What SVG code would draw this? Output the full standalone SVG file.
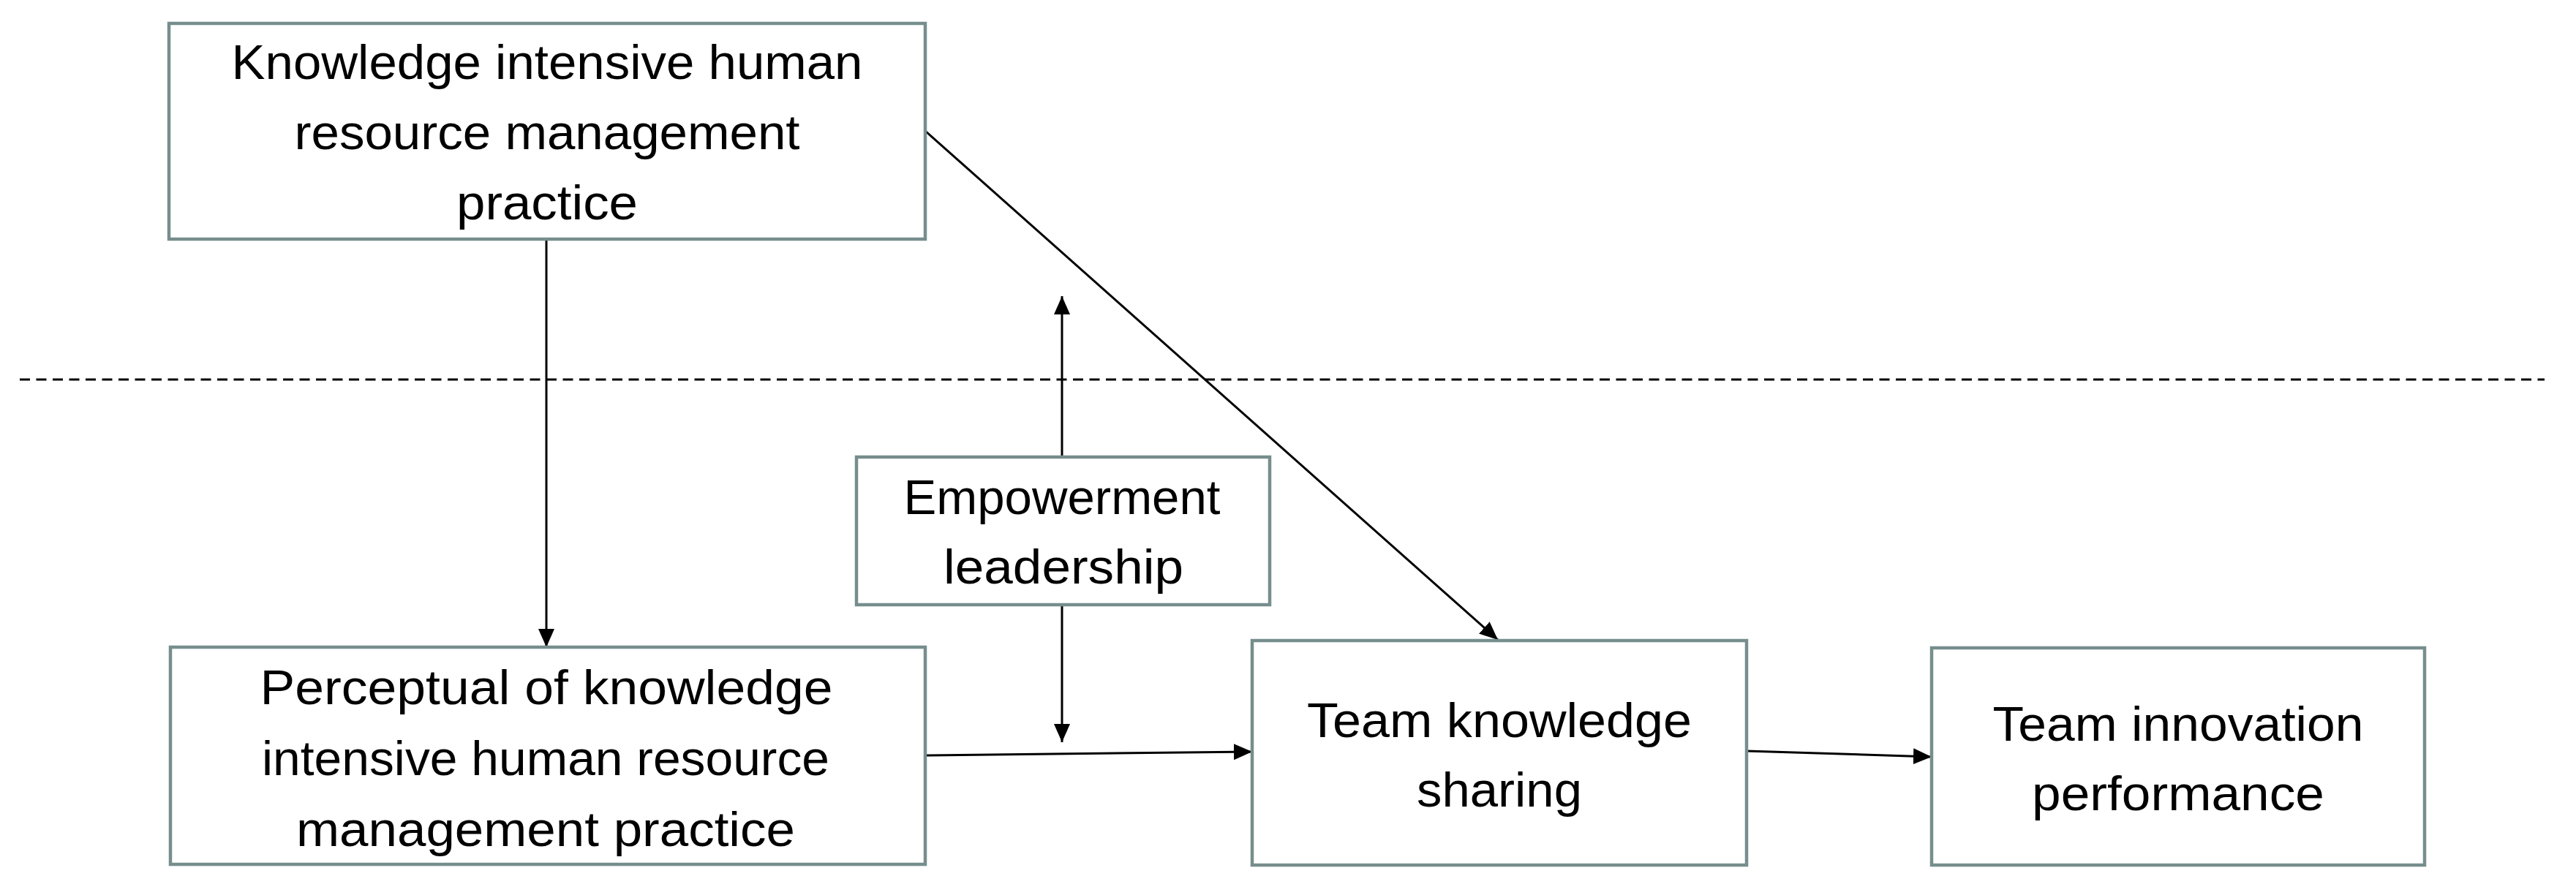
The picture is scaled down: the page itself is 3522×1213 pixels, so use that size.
<svg xmlns="http://www.w3.org/2000/svg" width="3522" height="1213" viewBox="0 0 3522 1213">
<style>
.box{fill:#ffffff;stroke:#768e8d;stroke-width:4.5}
.lbl{font-family:"Liberation Sans","DejaVu Sans",sans-serif;font-size:66px;fill:#000;text-anchor:middle}
.con{stroke:#000;stroke-width:3;fill:none}
.arr{marker-end:url(#ah)}
.dash{stroke:#000;stroke-width:3;stroke-dasharray:14 8.5;fill:none}
</style>
<defs>
<marker id="ah" markerUnits="userSpaceOnUse" markerWidth="26" markerHeight="24" refX="25" refY="11" orient="auto">
<path d="M0,0 L25,11 L0,22 z" fill="#000"/>
</marker>
</defs>
<rect width="3522" height="1213" fill="#ffffff"/>
<g id="connectors">
<line class="dash" x1="27" y1="519" x2="3479" y2="519"/>
<line class="con arr" x1="747" y1="327" x2="747" y2="885"/>
<line class="con arr" x1="1265" y1="179" x2="2048" y2="875"/>
<line class="con arr" x1="1452" y1="625" x2="1452" y2="405"/>
<line class="con arr" x1="1452" y1="827" x2="1452" y2="1015"/>
<line class="con arr" x1="1265" y1="1033" x2="1712" y2="1028"/>
<line class="con arr" x1="2388" y1="1027" x2="2641" y2="1035"/>
</g>
<g id="node-kihrm">
<rect class="box" x="231" y="32" width="1034" height="295"/>
<text class="lbl" x="748" y="108" textLength="863" lengthAdjust="spacingAndGlyphs">Knowledge intensive human</text>
<text class="lbl" x="748" y="204" textLength="691" lengthAdjust="spacingAndGlyphs">resource management</text>
<text class="lbl" x="748" y="300" textLength="248" lengthAdjust="spacingAndGlyphs">practice</text>
</g>
<g id="node-empowerment">
<rect class="box" x="1171" y="625" width="565" height="202"/>
<text class="lbl" x="1452" y="703" textLength="433" lengthAdjust="spacingAndGlyphs">Empowerment</text>
<text class="lbl" x="1454" y="798" textLength="328" lengthAdjust="spacingAndGlyphs">leadership</text>
</g>
<g id="node-perceptual">
<rect class="box" x="233" y="885" width="1032" height="297"/>
<text class="lbl" x="747" y="963" textLength="783" lengthAdjust="spacingAndGlyphs">Perceptual of knowledge</text>
<text class="lbl" x="746" y="1060" textLength="776" lengthAdjust="spacingAndGlyphs">intensive human resource</text>
<text class="lbl" x="746" y="1157" textLength="682" lengthAdjust="spacingAndGlyphs">management practice</text>
</g>
<g id="node-team-knowledge">
<rect class="box" x="1712" y="876" width="676" height="307"/>
<text class="lbl" x="2050" y="1008" textLength="526" lengthAdjust="spacingAndGlyphs">Team knowledge</text>
<text class="lbl" x="2050" y="1103" textLength="226" lengthAdjust="spacingAndGlyphs">sharing</text>
</g>
<g id="node-team-innovation">
<rect class="box" x="2641" y="886" width="674" height="297"/>
<text class="lbl" x="2978" y="1013" textLength="507" lengthAdjust="spacingAndGlyphs">Team innovation</text>
<text class="lbl" x="2978" y="1108" textLength="400" lengthAdjust="spacingAndGlyphs">performance</text>
</g>
</svg>
